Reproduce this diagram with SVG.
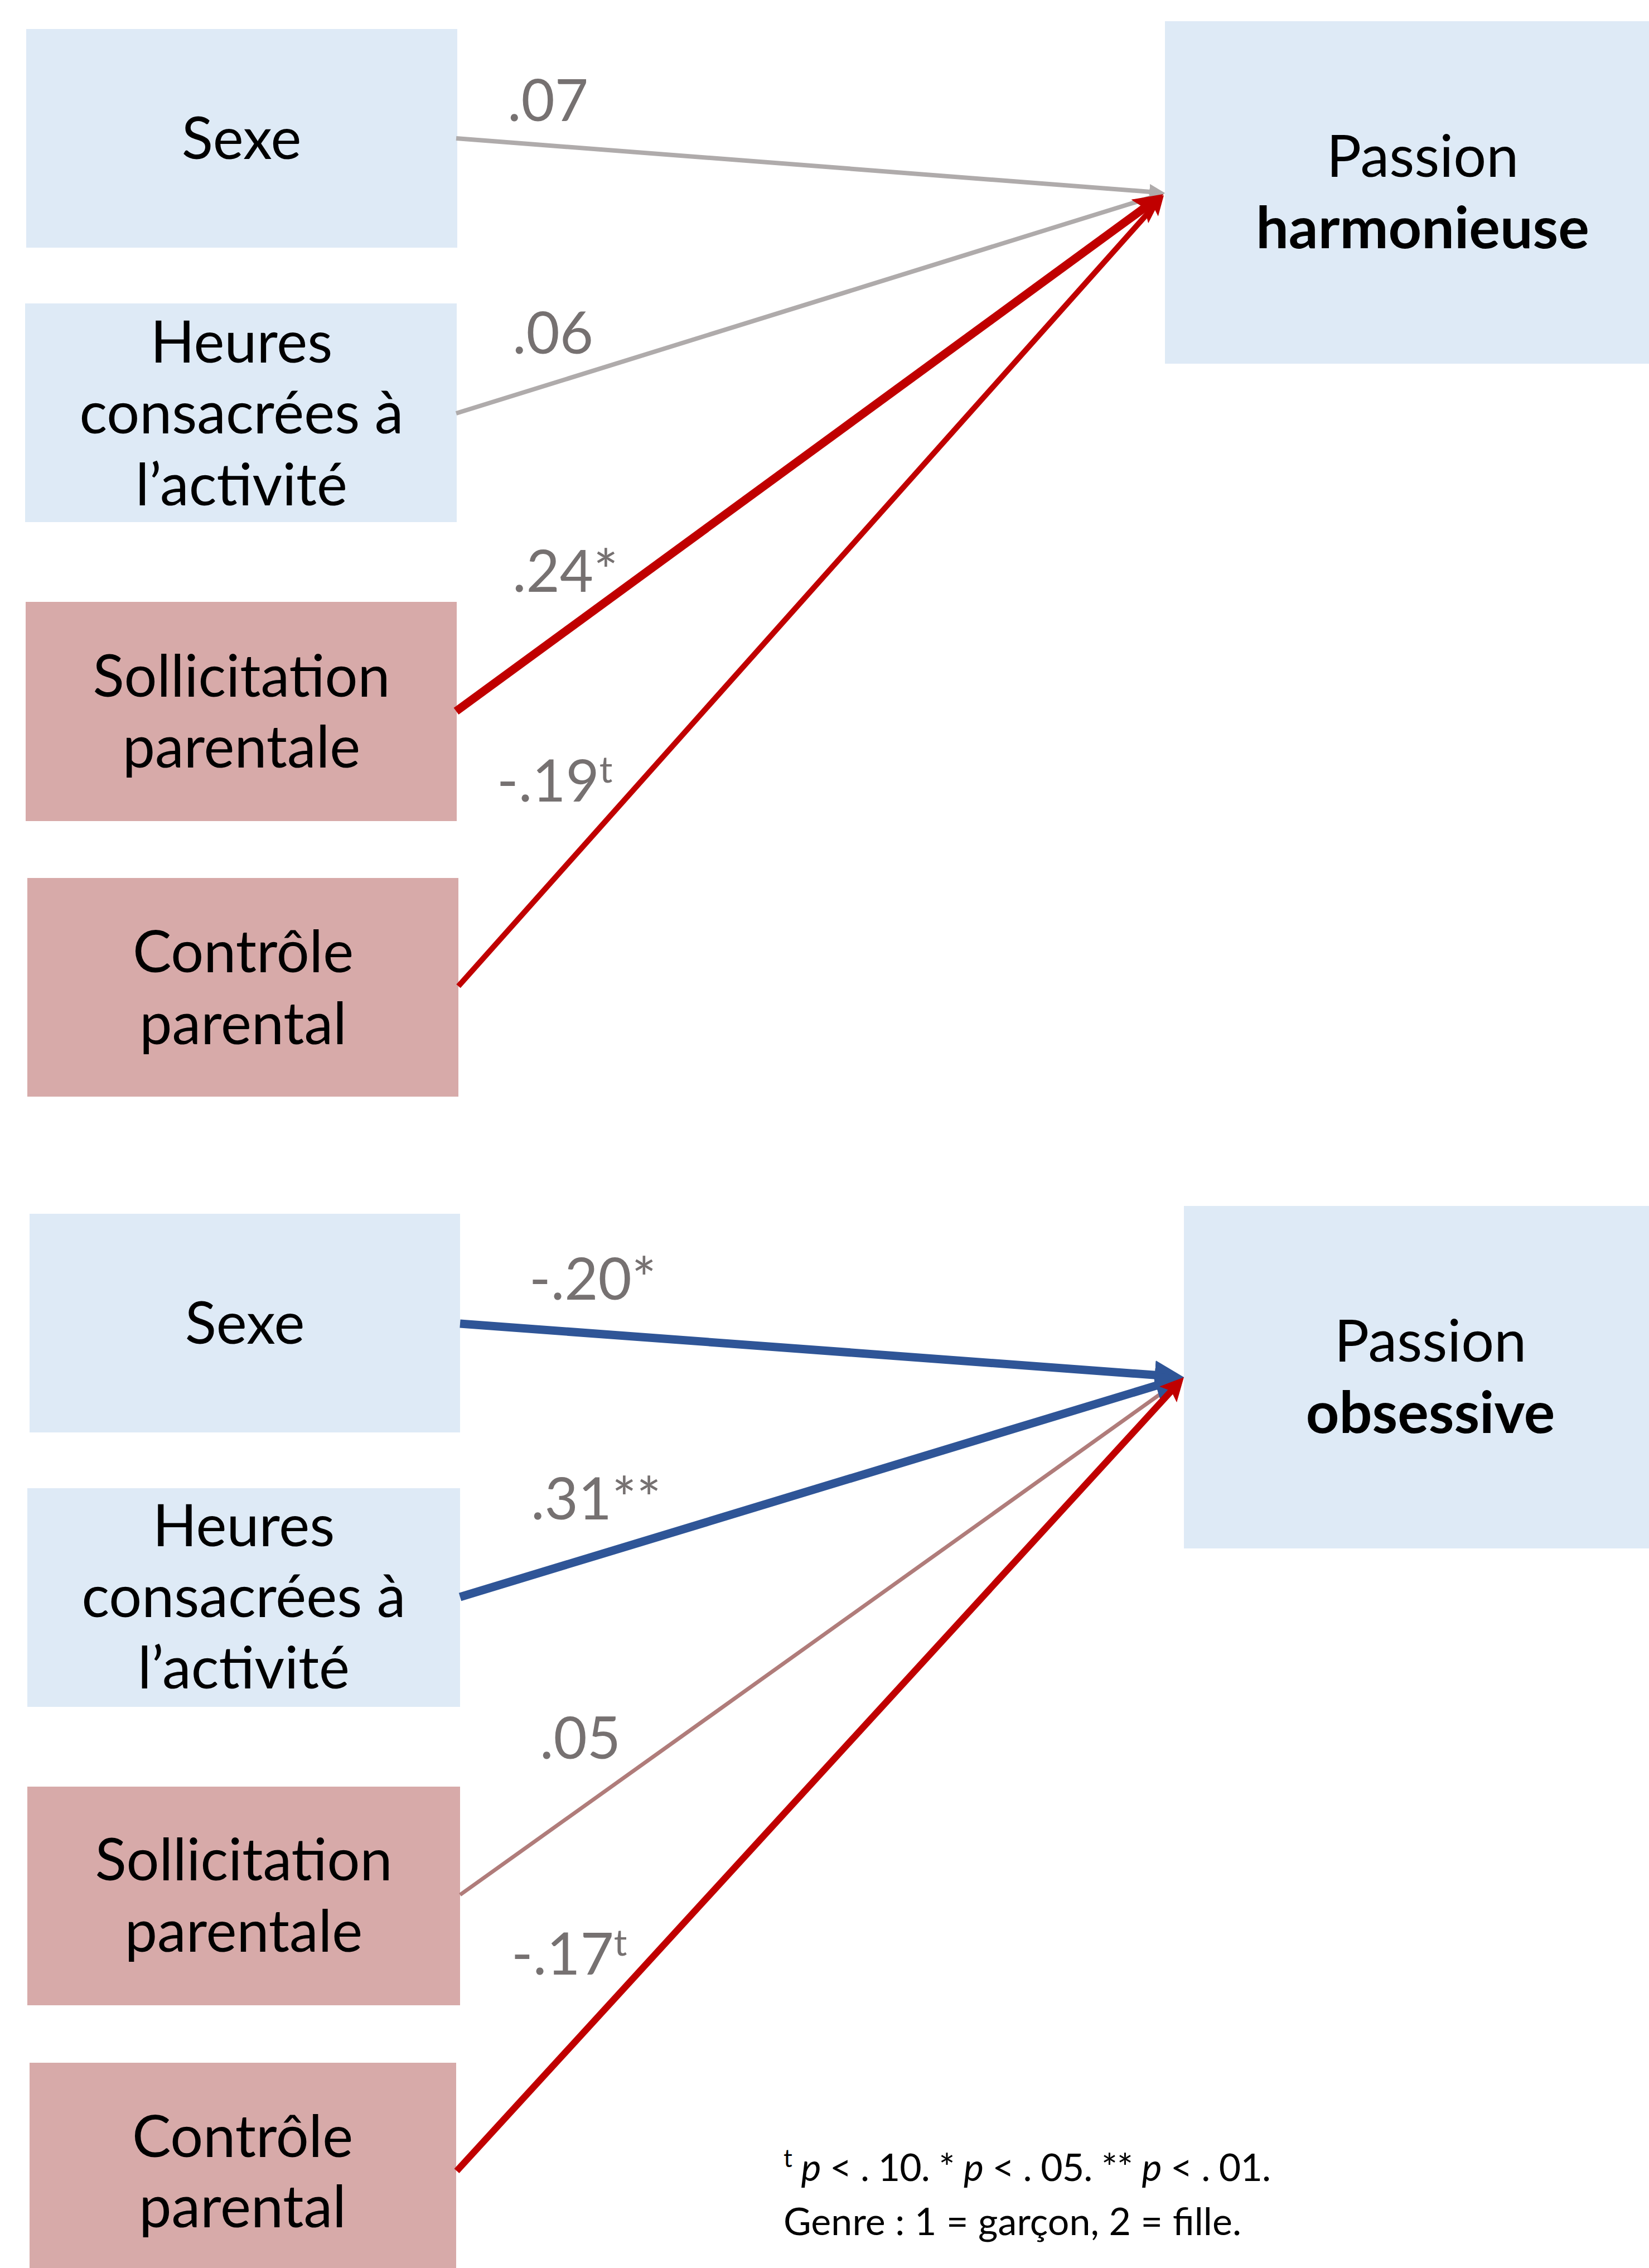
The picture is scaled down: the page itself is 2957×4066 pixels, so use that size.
<svg xmlns="http://www.w3.org/2000/svg" width="2957" height="4066" viewBox="0 0 2957 4066">
<style>
.blue{fill:#deeaf6}
.pink{fill:#d7aaa9}
.t{font-family:Lato,"Open Sans",sans-serif;font-size:104px;fill:#000;text-anchor:middle}
.b{font-weight:bold}
.lab{font-family:Lato,"Open Sans",sans-serif;font-size:104px;fill:#767171}
.sup{font-size:66px}
.note{font-family:Lato,"Open Sans",sans-serif;font-size:68px;fill:#000}
.c{fill:none;stroke-linecap:butt}
</style>
<defs>
<marker id="mGray" viewBox="0 0 10 10" refX="5" refY="5" markerWidth="3.5" markerHeight="3.5" orient="auto" markerUnits="strokeWidth"><path d="M0,0 L10,5 L0,10 z" fill="#afabab"/></marker>
<marker id="mRed" viewBox="0 0 10 10" refX="5" refY="5" markerWidth="3.5" markerHeight="3.5" orient="auto" markerUnits="strokeWidth"><path d="M0,0 L10,5 L0,10 L2,5 z" fill="#c00000"/></marker>
<marker id="mBlue" viewBox="0 0 10 10" refX="5" refY="5" markerWidth="3.5" markerHeight="3.5" orient="auto" markerUnits="strokeWidth"><path d="M0,0 L10,5 L0,10 z" fill="#2f5597"/></marker>
<marker id="mRose" viewBox="0 0 10 10" refX="5" refY="5" markerWidth="3.5" markerHeight="3.5" orient="auto" markerUnits="strokeWidth"><path d="M0,0 L10,5 L0,10 z" fill="#b07c7a"/></marker>
</defs>

<g id="n-sexe-1"><rect class="blue" x="47" y="52" width="773" height="392"/><text class="t" x="433" y="285">Sexe</text></g>
<g id="n-heures-1"><rect class="blue" x="45" y="544" width="774" height="392"/><text class="t" x="433" y="650">Heures</text><text class="t" x="433" y="777">consacrées à</text><text class="t" x="433" y="906">l’activité</text></g>
<g id="n-sollic-1"><rect class="pink" x="46" y="1079" width="773" height="393"/><text class="t" x="433" y="1249">Sollicitation</text><text class="t" x="433" y="1376">parentale</text></g>
<g id="n-controle-1"><rect class="pink" x="49" y="1574" width="773" height="392"/><text class="t" x="436" y="1743">Contrôle</text><text class="t" x="436" y="1872">parental</text></g>
<g id="n-harmo"><rect class="blue" x="2089" y="38" width="868" height="614"/><text class="t" x="2551" y="317">Passion</text><text class="t b" x="2551" y="445">harmonieuse</text></g>

<g id="n-sexe-2"><rect class="blue" x="53" y="2176" width="772" height="392"/><text class="t" x="439" y="2409">Sexe</text></g>
<g id="n-heures-2"><rect class="blue" x="49" y="2668" width="776" height="392"/><text class="t" x="437" y="2772">Heures</text><text class="t" x="437" y="2899">consacrées à</text><text class="t" x="437" y="3027">l’activité</text></g>
<g id="n-sollic-2"><rect class="pink" x="49" y="3203" width="776" height="392"/><text class="t" x="437" y="3371">Sollicitation</text><text class="t" x="437" y="3499">parentale</text></g>
<g id="n-controle-2"><rect class="pink" x="53" y="3698" width="765" height="368"/><text class="t" x="435" y="3867">Contrôle</text><text class="t" x="435" y="3993">parental</text></g>
<g id="n-obses"><rect class="blue" x="2123" y="2162" width="834" height="614"/><text class="t" x="2565" y="2441">Passion</text><text class="t b" x="2565" y="2569">obsessive</text></g>

<g id="connectors">
<line class="c" x1="818" y1="248" x2="2075" y2="344.9" stroke="#afabab" stroke-width="8" marker-end="url(#mGray)"/>
<line class="c" x1="818" y1="741" x2="2075.6" y2="350.2" stroke="#afabab" stroke-width="8" marker-end="url(#mGray)"/>
<line class="c" x1="818" y1="1275" x2="2064.8" y2="363.5" stroke="#c00000" stroke-width="15" marker-end="url(#mRed)"/>
<line class="c" x1="822" y1="1768" x2="2075.4" y2="363.1" stroke="#c00000" stroke-width="10" marker-end="url(#mRed)"/>

<line class="c" x1="825" y1="3397" x2="2113" y2="2476.1" stroke="#b07c7a" stroke-width="7" marker-end="url(#mRose)"/>
<line class="c" x1="825" y1="2373" x2="2096.8" y2="2467.1" stroke="#2f5597" stroke-width="15" marker-end="url(#mBlue)"/>
<line class="c" x1="825" y1="2863" x2="2097.9" y2="2476.6" stroke="#2f5597" stroke-width="15" marker-end="url(#mBlue)"/>
<line class="c" x1="819" y1="3892" x2="2108.8" y2="2484.5" stroke="#c00000" stroke-width="12" marker-end="url(#mRed)"/>
</g>

<g id="labels">
<text class="lab" x="910" y="217">.07</text>
<text class="lab" x="919" y="634">.06</text>
<text class="lab" x="919" y="1061">.24*</text>
<text class="lab" x="891" y="1437">-.19<tspan class="sup" dy="-34">t</tspan></text>
<text class="lab" x="949" y="2330">-.20*</text>
<text class="lab" x="952" y="2724">.31**</text>
<text class="lab" x="968" y="3153">.05</text>
<text class="lab" x="917" y="3540">-.17<tspan class="sup" dy="-34">t</tspan></text>
</g>

<g id="note">
<text class="note" x="1405" y="3910" textLength="874" lengthAdjust="spacing"><tspan font-size="44" dy="-25">t</tspan><tspan dy="25"> </tspan><tspan font-style="italic">p</tspan> &lt; . 10. * <tspan font-style="italic">p</tspan> &lt; . 05. ** <tspan font-style="italic">p</tspan> &lt; . 01.</text>
<text class="note" x="1405" y="4007" textLength="821" lengthAdjust="spacing">Genre : 1 = garçon, 2 = fille.</text>
</g>
</svg>
